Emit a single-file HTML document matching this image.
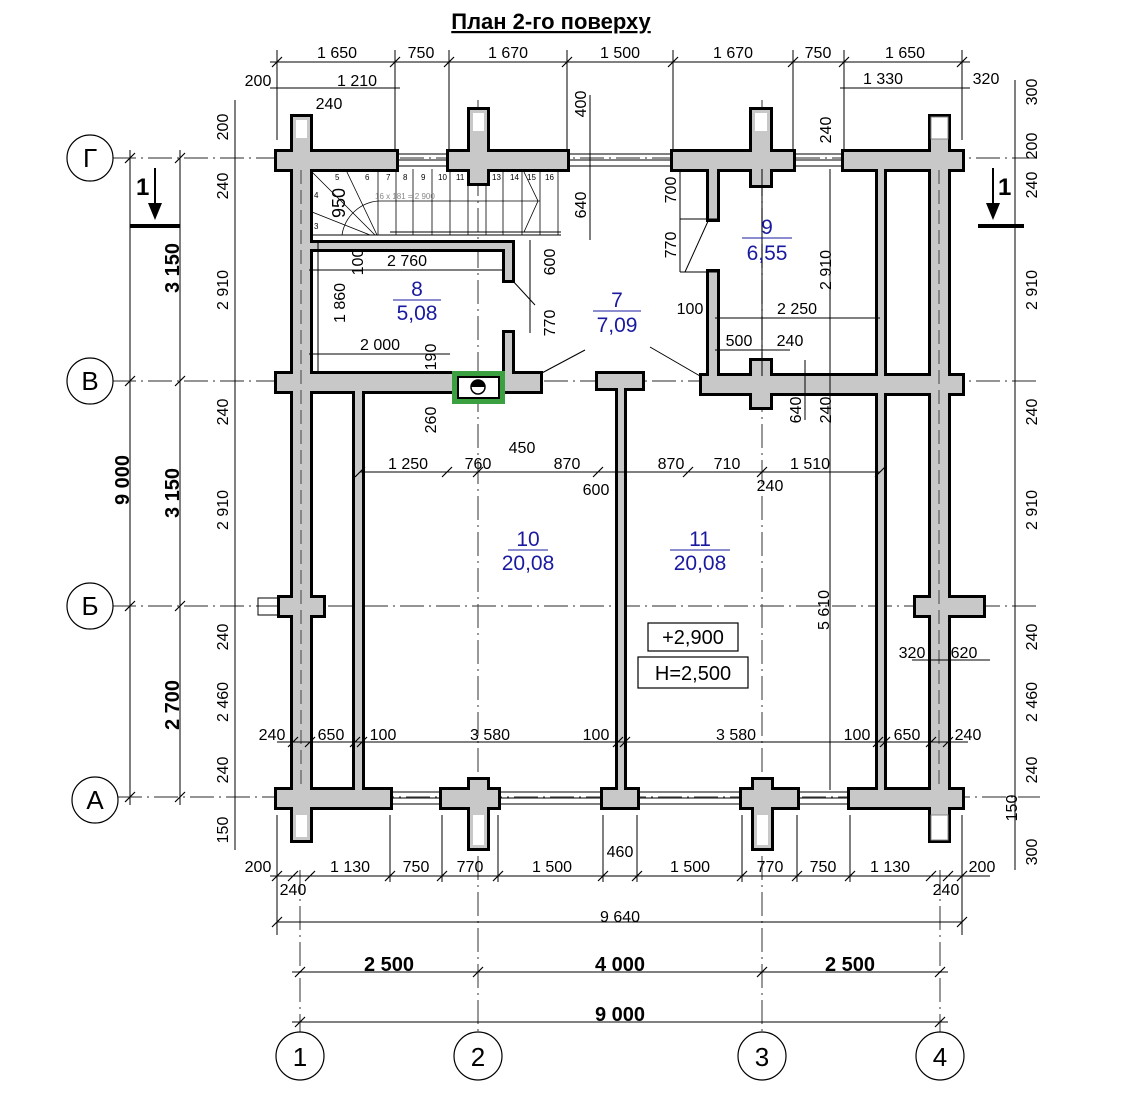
<!DOCTYPE html>
<html><head><meta charset="utf-8"><style>
html,body{margin:0;padding:0;background:#fff;}
svg{display:block;font-family:"Liberation Sans",sans-serif;}
.t{font-size:16px;fill:#000;}
.b{font-size:20px;font-weight:bold;fill:#000;}
.r{font-size:21px;fill:#1a1aa0;}
.ax{stroke:#555;stroke-width:1.2;stroke-dasharray:24 5 2 5;fill:none;}
.d{stroke:#000;stroke-width:1;fill:none;}
</style></head><body>
<svg width="1127" height="1099" viewBox="0 0 1127 1099" xmlns="http://www.w3.org/2000/svg">
<defs>
<g id="walls">
<rect x="293" y="117" width="17" height="723"/>
<rect x="931" y="117" width="17" height="723"/>
<rect x="277" y="152" width="119" height="17"/>
<rect x="449" y="152" width="118" height="17"/><rect x="470" y="110" width="17" height="73"/>
<rect x="673" y="152" width="120" height="17"/><rect x="752" y="110" width="18" height="75"/>
<rect x="844" y="152" width="118" height="17"/>
<rect x="277" y="374" width="263" height="17"/>
<rect x="598" y="374" width="44" height="14"/>
<rect x="702" y="376" width="260" height="17"/><rect x="752" y="361" width="18" height="46"/>
<rect x="280" y="598" width="43" height="17"/>
<rect x="916" y="598" width="67" height="17"/>
<rect x="277" y="790" width="113" height="17"/>
<rect x="442" y="790" width="56" height="17"/><rect x="470" y="780" width="17" height="68"/>
<rect x="603" y="790" width="34" height="17"/>
<rect x="742" y="790" width="55" height="17"/><rect x="754" y="780" width="17" height="68"/>
<rect x="850" y="790" width="112" height="17"/>
<rect x="355" y="391" width="7" height="399"/>
<rect x="618" y="388" width="6" height="402"/>
<rect x="878" y="169" width="6" height="621"/>
<rect x="309" y="243" width="203" height="6"/>
<rect x="505" y="243" width="7" height="37"/>
<rect x="505" y="333" width="7" height="41"/>
<rect x="709" y="169" width="8" height="50"/>
<rect x="709" y="272" width="8" height="104"/>
</g>
</defs>
<rect width="1127" height="1099" fill="#fff"/>
<text x="551" y="29" text-anchor="middle" style="font-size:22px;font-weight:bold;text-decoration:underline">План 2-го поверху</text>

<!-- axes -->
<g class="ax">
<line x1="112" y1="158" x2="1040" y2="158"/><line x1="112" y1="381" x2="1040" y2="381"/>
<line x1="112" y1="606" x2="1040" y2="606"/><line x1="118" y1="797" x2="1040" y2="797"/>
<line x1="478" y1="100" x2="478" y2="1034"/><line x1="762" y1="100" x2="762" y2="1034"/>
<line x1="300" y1="870" x2="300" y2="1034"/><line x1="940" y1="870" x2="940" y2="1034"/>
</g>

<!-- windows -->
<g stroke="#000" stroke-width="1" fill="none">
<rect x="396" y="154" width="53" height="12"/><line x1="396" y1="160" x2="449" y2="160"/>
<rect x="567" y="154" width="106" height="12"/><line x1="567" y1="160" x2="673" y2="160"/>
<rect x="793" y="154" width="51" height="12"/><line x1="793" y1="160" x2="844" y2="160"/>
<rect x="390" y="792" width="52" height="12"/><line x1="390" y1="798" x2="442" y2="798"/>
<rect x="498" y="792" width="105" height="12"/><line x1="498" y1="798" x2="603" y2="798"/>
<rect x="637" y="792" width="105" height="12"/><line x1="637" y1="798" x2="742" y2="798"/>
<rect x="797" y="792" width="53" height="12"/><line x1="797" y1="798" x2="850" y2="798"/>
<rect x="258" y="598" width="22" height="17"/>
</g>
<!-- walls: union outline -->
<use href="#walls" fill="#000" stroke="#000" stroke-width="6"/>
<use href="#walls" fill="#c8c8c8"/>
<!-- light stub tops -->
<g fill="#fff">
<rect x="296" y="120" width="11" height="18"/><rect x="473" y="113" width="11" height="18"/>
<rect x="755" y="113" width="12" height="18"/>
<rect x="296" y="815" width="11" height="22"/><rect x="473" y="815" width="11" height="30"/>
<rect x="757" y="815" width="11" height="30"/>
</g>
<rect x="931" y="117" width="17" height="22" fill="#fff" stroke="#888" stroke-width="1"/>
<rect x="931" y="815" width="17" height="25" fill="#fff" stroke="#888" stroke-width="1"/>
<!-- wall axis dashes -->
<g stroke="#444" stroke-width="1" stroke-dasharray="14 6" fill="none">
<line x1="301" y1="170" x2="301" y2="790"/><line x1="939" y1="170" x2="939" y2="790"/>
</g>
<!-- chimney -->
<rect x="452" y="371" width="53" height="33" fill="#3aa040"/>
<rect x="458" y="377" width="41" height="21" fill="#fff" stroke="#000" stroke-width="2"/>
<circle cx="478" cy="387" r="7" fill="#fff" stroke="#000" stroke-width="1.5"/>
<path d="M471 387 A7 7 0 0 1 485 387 Z" fill="#000"/>

<!-- stairs -->
<g stroke="#000" stroke-width="1" fill="none">
<line x1="310" y1="235" x2="561" y2="235"/>
<line x1="390" y1="232" x2="561" y2="232"/>
<g stroke-width="0.8">
<line x1="378" y1="169" x2="378" y2="235"/><line x1="396" y1="169" x2="396" y2="235"/>
<line x1="413" y1="169" x2="413" y2="235"/><line x1="432" y1="169" x2="432" y2="235"/>
<line x1="450" y1="169" x2="450" y2="235"/><line x1="468" y1="169" x2="468" y2="235"/>
<line x1="486" y1="186" x2="486" y2="235"/><line x1="503" y1="169" x2="503" y2="235"/>
<line x1="522" y1="169" x2="522" y2="235"/><line x1="540" y1="169" x2="540" y2="235"/>
<line x1="558" y1="169" x2="558" y2="235"/>
<line x1="312" y1="172" x2="375" y2="235"/><line x1="346" y1="170" x2="377" y2="235"/>
<line x1="312" y1="212" x2="370" y2="235"/>
<path d="M342 235 A40 40 0 0 1 378 201"/>
<line x1="378" y1="201" x2="540" y2="201"/>
<polyline points="524,172 538,201 524,232"/>
</g>
</g>
<g style="font-size:8px" fill="#000">
<text x="314" y="198">4</text><text x="314" y="229">3</text>
<text x="335" y="180">5</text><text x="365" y="180">6</text><text x="386" y="180">7</text>
<text x="403" y="180">8</text><text x="421" y="180">9</text><text x="438" y="180">10</text>
<text x="456" y="180">11</text><text x="492" y="180">13</text><text x="510" y="180">14</text>
<text x="527" y="180">15</text><text x="545" y="180">16</text>
</g>
<text x="375" y="199" style="font-size:8px" fill="#888">16 x 181 = 2 900</text>

<!-- axis bubbles -->
<g fill="#fff" stroke="#000" stroke-width="1.2">
<circle cx="90" cy="158" r="23"/><circle cx="90" cy="381" r="23"/><circle cx="90" cy="606" r="23"/><circle cx="95" cy="800" r="23"/>
<circle cx="300" cy="1056" r="24"/><circle cx="478" cy="1056" r="24"/><circle cx="762" cy="1056" r="24"/><circle cx="940" cy="1056" r="24"/>
</g>
<g style="font-size:26px" text-anchor="middle" fill="#000">
<text x="90" y="167">Г</text><text x="90" y="390">В</text><text x="90" y="615">Б</text><text x="95" y="809">А</text>
<text x="300" y="1066">1</text><text x="478" y="1066">2</text><text x="762" y="1066">3</text><text x="940" y="1066">4</text>
</g>

<!-- section marks -->
<g>
<text x="136" y="195" class="b" style="font-size:24px">1</text>
<line x1="155" y1="168" x2="155" y2="205" stroke="#000" stroke-width="2"/><path d="M148 203 L162 203 L155 220 Z"/>
<rect x="130" y="224" width="50" height="4"/>
<text x="998" y="195" class="b" style="font-size:24px">1</text>
<line x1="993" y1="168" x2="993" y2="205" stroke="#000" stroke-width="2"/><path d="M986 203 L1000 203 L993 220 Z"/>
<rect x="978" y="224" width="46" height="4"/>
</g>

<!-- dimension lines -->
<g class="d">
<line x1="270" y1="62" x2="970" y2="62"/>
<line x1="270" y1="88" x2="400" y2="88"/><line x1="840" y1="88" x2="970" y2="88"/>
<line x1="130" y1="150" x2="130" y2="805"/><line x1="180" y1="150" x2="180" y2="805"/>
<line x1="235" y1="100" x2="235" y2="850"/><line x1="1015" y1="80" x2="1015" y2="870"/>
<line x1="270" y1="876" x2="990" y2="876"/>
<line x1="277" y1="922" x2="962" y2="922"/>
<line x1="292" y1="972" x2="948" y2="972"/>
<line x1="292" y1="1022" x2="948" y2="1022"/>
<line x1="277" y1="742" x2="968" y2="742"/>
<line x1="360" y1="472" x2="880" y2="472"/>
<line x1="309" y1="270" x2="505" y2="270"/>
<line x1="309" y1="354" x2="450" y2="354"/>
<line x1="715" y1="318" x2="880" y2="318"/>
<line x1="715" y1="350" x2="790" y2="350"/>
<line x1="318" y1="243" x2="318" y2="374"/>
<line x1="590" y1="95" x2="590" y2="240"/>
<line x1="680" y1="169" x2="680" y2="272"/>
<line x1="680" y1="219" x2="717" y2="219"/><line x1="680" y1="272" x2="717" y2="272"/>
<line x1="530" y1="240" x2="530" y2="333"/>
<line x1="762" y1="169" x2="762" y2="376"/>
<line x1="805" y1="360" x2="805" y2="420"/>
<line x1="830" y1="169" x2="830" y2="790"/>
<line x1="912" y1="660" x2="990" y2="660"/>
<line x1="512" y1="280" x2="535" y2="305"/>
<line x1="540" y1="374" x2="585" y2="350"/>
<line x1="650" y1="347" x2="700" y2="376"/>
<line x1="685" y1="272" x2="709" y2="219"/>
<line x1="277" y1="50" x2="277" y2="140"/><line x1="962" y1="50" x2="962" y2="140"/>
<line x1="395" y1="50" x2="395" y2="150"/><line x1="449" y1="50" x2="449" y2="150"/>
<line x1="567" y1="50" x2="567" y2="150"/><line x1="673" y1="50" x2="673" y2="150"/>
<line x1="793" y1="50" x2="793" y2="150"/><line x1="844" y1="50" x2="844" y2="150"/>
<line x1="277" y1="815" x2="277" y2="935"/><line x1="962" y1="815" x2="962" y2="935"/>
<line x1="390" y1="815" x2="390" y2="882"/><line x1="442" y1="815" x2="442" y2="882"/>
<line x1="498" y1="815" x2="498" y2="882"/><line x1="603" y1="815" x2="603" y2="882"/>
<line x1="637" y1="815" x2="637" y2="882"/><line x1="742" y1="815" x2="742" y2="882"/>
<line x1="797" y1="815" x2="797" y2="882"/><line x1="850" y1="815" x2="850" y2="882"/>
</g>
<!-- ticks -->
<g stroke="#000" stroke-width="1.2">
<path d="M272 67l10-10M390 67l10-10M444 67l10-10M562 67l10-10M668 67l10-10M788 67l10-10M839 67l10-10M957 67l10-10"/>
<path d="M125 163l10-10M125 386l10-10M125 611l10-10M125 802l10-10M175 163l10-10M175 386l10-10M175 611l10-10M175 802l10-10"/>
<path d="M295 977l10-10M473 977l10-10M757 977l10-10M935 977l10-10M295 1027l10-10M935 1027l10-10M272 927l10-10M957 927l10-10"/>
<path d="M272 881l10-10M288 881l10-10M305 881l10-10M385 881l10-10M437 881l10-10M493 881l10-10M598 881l10-10M632 881l10-10M737 881l10-10M792 881l10-10M845 881l10-10M926 881l10-10M943 881l10-10M957 881l10-10"/>
<path d="M288 747l10-10M305 747l10-10M350 747l10-10M357 747l10-10M613 747l10-10M620 747l10-10M873 747l10-10M880 747l10-10M926 747l10-10M943 747l10-10"/>
<path d="M355 477l10-10M442 477l10-10M473 477l10-10M593 477l10-10M683 477l10-10M757 477l10-10M875 477l10-10"/>
</g>

<!-- dimension texts -->
<g class="t" text-anchor="middle">
<text x="337" y="58">1 650</text><text x="421" y="58">750</text><text x="508" y="58">1 670</text><text x="620" y="58">1 500</text>
<text x="733" y="58">1 670</text><text x="818" y="58">750</text><text x="905" y="58">1 650</text>
<text x="258" y="86">200</text><text x="357" y="86">1 210</text><text x="329" y="109">240</text>
<text x="883" y="84">1 330</text><text x="986" y="84">320</text>
<text x="258" y="872">200</text><text x="350" y="872">1 130</text><text x="416" y="872">750</text><text x="470" y="872">770</text>
<text x="552" y="872">1 500</text><text x="620" y="857">460</text><text x="690" y="872">1 500</text><text x="770" y="872">770</text>
<text x="823" y="872">750</text><text x="890" y="872">1 130</text><text x="982" y="872">200</text>
<text x="293" y="895">240</text><text x="946" y="895">240</text>
<text x="620" y="922">9 640</text>
<text x="407" y="266">2 760</text><text x="380" y="350">2 000</text>
<text x="797" y="314">2 250</text><text x="690" y="314">100</text>
<text x="739" y="346">500</text><text x="790" y="346">240</text>
<text x="408" y="469">1 250</text><text x="478" y="469">760</text><text x="522" y="453">450</text><text x="567" y="469">870</text>
<text x="596" y="495">600</text><text x="671" y="469">870</text><text x="727" y="469">710</text><text x="810" y="469">1 510</text>
<text x="770" y="491">240</text>
<text x="272" y="740">240</text><text x="331" y="740">650</text><text x="383" y="740">100</text><text x="490" y="740">3 580</text>
<text x="596" y="740">100</text><text x="736" y="740">3 580</text><text x="857" y="740">100</text><text x="907" y="740">650</text><text x="968" y="740">240</text>
<text x="912" y="658">320</text><text x="964" y="658">620</text>
</g>
<g class="b" text-anchor="middle">
<text x="389" y="971">2 500</text><text x="620" y="971">4 000</text><text x="850" y="971">2 500</text>
<text x="620" y="1021">9 000</text>
<text transform="translate(179,268) rotate(-90)">3 150</text>
<text transform="translate(179,493) rotate(-90)">3 150</text>
<text transform="translate(179,705) rotate(-90)">2 700</text>
<text transform="translate(129,480) rotate(-90)">9 000</text>
</g>
<g class="t" text-anchor="middle">
<text transform="translate(228,127) rotate(-90)">200</text>
<text transform="translate(228,186) rotate(-90)">240</text>
<text transform="translate(228,290) rotate(-90)">2 910</text>
<text transform="translate(228,412) rotate(-90)">240</text>
<text transform="translate(228,510) rotate(-90)">2 910</text>
<text transform="translate(228,637) rotate(-90)">240</text>
<text transform="translate(228,702) rotate(-90)">2 460</text>
<text transform="translate(228,770) rotate(-90)">240</text>
<text transform="translate(228,830) rotate(-90)">150</text>
<text transform="translate(1037,92) rotate(-90)">300</text>
<text transform="translate(1037,146) rotate(-90)">200</text>
<text transform="translate(1037,185) rotate(-90)">240</text>
<text transform="translate(1037,290) rotate(-90)">2 910</text>
<text transform="translate(1037,412) rotate(-90)">240</text>
<text transform="translate(1037,510) rotate(-90)">2 910</text>
<text transform="translate(1037,637) rotate(-90)">240</text>
<text transform="translate(1037,702) rotate(-90)">2 460</text>
<text transform="translate(1037,770) rotate(-90)">240</text>
<text transform="translate(1017,808) rotate(-90)">150</text>
<text transform="translate(1037,852) rotate(-90)">300</text>
<text transform="translate(586,104) rotate(-90)">400</text>
<text transform="translate(586,205) rotate(-90)">640</text>
<text transform="translate(676,190) rotate(-90)">700</text>
<text transform="translate(676,245) rotate(-90)">770</text>
<text transform="translate(831,130) rotate(-90)">240</text>
<text transform="translate(831,270) rotate(-90)">2 910</text>
<text transform="translate(345,203) rotate(-90)" style="font-size:18px">950</text>
<text transform="translate(363,262) rotate(-90)">100</text>
<text transform="translate(345,303) rotate(-90)">1 860</text>
<text transform="translate(555,262) rotate(-90)">600</text>
<text transform="translate(555,323) rotate(-90)">770</text>
<text transform="translate(436,357) rotate(-90)">190</text>
<text transform="translate(436,420) rotate(-90)">260</text>
<text transform="translate(801,410) rotate(-90)">640</text>
<text transform="translate(831,410) rotate(-90)">240</text>
<text transform="translate(829,610) rotate(-90)">5 610</text>
</g>

<!-- rooms -->
<g class="r" text-anchor="middle">
<text x="417" y="296">8</text><text x="417" y="320">5,08</text>
<text x="617" y="307">7</text><text x="617" y="332">7,09</text>
<text x="767" y="234">9</text><text x="767" y="260">6,55</text>
<text x="528" y="546">10</text><text x="528" y="570">20,08</text>
<text x="700" y="546">11</text><text x="700" y="570">20,08</text>
</g>
<g stroke="#1a1aa0" stroke-width="1">
<line x1="393" y1="300" x2="441" y2="300"/><line x1="593" y1="311" x2="641" y2="311"/>
<line x1="742" y1="238" x2="792" y2="238"/><line x1="508" y1="550" x2="548" y2="550"/><line x1="670" y1="550" x2="730" y2="550"/>
</g>
<rect x="648" y="623" width="90" height="28" fill="#fff" stroke="#000" stroke-width="1.2"/>
<text x="693" y="644" text-anchor="middle" style="font-size:20px">+2,900</text>
<rect x="638" y="657" width="110" height="31" fill="#fff" stroke="#000" stroke-width="1.2"/>
<text x="693" y="680" text-anchor="middle" style="font-size:20px">H=2,500</text>
</svg>
</body></html>
